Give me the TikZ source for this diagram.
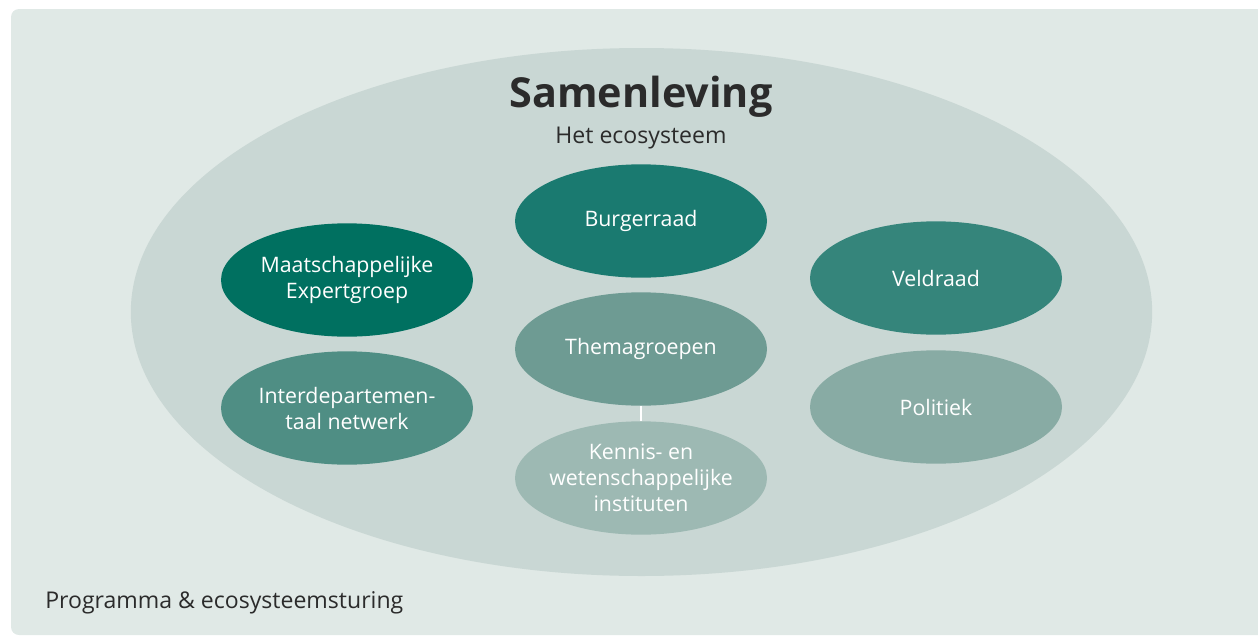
\documentclass[tikz,border=0pt]{standalone}
\usepackage{fontspec}
\setmainfont{Open Sans}
\usepackage{tikz}
\usetikzlibrary{shapes.geometric}

\definecolor{paneel}{HTML}{E0E9E6}
\definecolor{ecosysteem}{HTML}{C9D7D4}
\definecolor{tekst}{HTML}{2B2B2B}
\definecolor{burger}{HTML}{1A7A70}
\definecolor{expert}{HTML}{007060}
\definecolor{veld}{HTML}{35857B}
\definecolor{thema}{HTML}{6E9B93}
\definecolor{interdep}{HTML}{4F8E84}
\definecolor{politiek}{HTML}{88ABA4}
\definecolor{kennis}{HTML}{9DB9B3}

\begin{document}
\begin{tikzpicture}[x=0.75pt, y=-0.75pt,
    groep/.style={ellipse, fill=#1, text=white, minimum width=189pt, minimum height=85pt,
        inner sep=-4pt, align=center, font=\fontsize{16}{19.5}\selectfont}]
    \useasboundingbox (0,0) rectangle (1258,636);
    \fill[paneel, rounded corners=6pt] (11,9) rectangle (1280,635);

    \node (samenleving) [ellipse, fill=ecosysteem, minimum width=766pt, minimum height=396pt] at (641.5,312) {};
    \node (titel) [text=tekst, font=\fontsize{31}{36}\selectfont\bfseries] at (641,97) {Samenleving};
    \node (ondertitel) [text=tekst, font=\fontsize{17.3}{20}\selectfont] at (641,138) {Het ecosysteem};

    \node (burgerraad) [groep=burger] at (641,221) {Burgerraad};
    \node (expertgroep) [groep=expert] at (347,280) {Maatschappelijke\\Expertgroep};
    \node (veldraad) [groep=veld] at (936,278) {Veldraad};
    \node (themagroepen) [groep=thema] at (641,349) {Themagroepen};
    \node (netwerk) [groep=interdep] at (347,408) {Interdepartemen-\\taal netwerk};
    \node (politiek) [groep=politiek] at (936,407) {Politiek};
    \node (kennis) [groep=kennis] at (641,478) {Kennis- en\\wetenschappelijke\\instituten};

    \draw[white, line width=2pt] (themagroepen) -- (kennis);

    \node (sturing) [anchor=west, inner sep=0pt, text=tekst, font=\fontsize{17.3}{20}\selectfont] at (45,603) {Programma \& ecosysteemsturing};
\end{tikzpicture}
\end{document}
